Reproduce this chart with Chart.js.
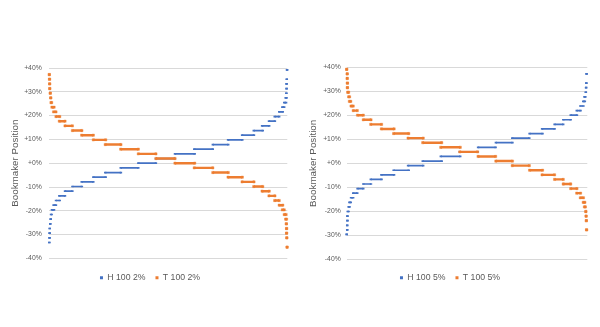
<!DOCTYPE html>
<html><head><meta charset="utf-8">
<script src="https://cdn.jsdelivr.net/npm/chart.js@4/dist/chart.umd.min.js"></script>
<style>
html,body{margin:0;padding:0;background:#fff;}
#wrap{position:relative;width:600px;height:327px;overflow:hidden;}
.c{position:absolute;top:0;width:300px;height:327px;}
</style></head><body>
<div id="wrap">
<div class="c" style="left:0"><canvas id="c1" width="300" height="327"></canvas></div>
<div class="c" style="left:300px"><canvas id="c2" width="300" height="327"></canvas></div>
</div>
<script>
// ---- data ----
const tickLabels = ['-40%','-30%','-20%','-10%','+0%','+10%','+20%','+30%','+40%'];
const seriesNames2 = ['H 100 2%', 'T 100 2%'];
const seriesNames5 = ['H 100 5%', 'T 100 5%'];

// 2% chart: each step = one level, sample-rank range (0..1000) where it sits
const xStart2 = [0,1,1.5,2,4,6,7,11,18,28,42,66,97,136,185,235,300,374,448,528,609,687,751,810,859,894,923,947,966,979,987,993,996,997,997,998,999];
const xEnd2   = [0,1,1.5,2,4,6,10,20,28,44,66,97,137,185,237,301,374,448,528,611,687,752,811,860,897,924,948,966,981,987,995,997,996,997,997,998,999];
const t2Levels = [37.24,35.28,33.32,31.36,29.40,27.44,25.48,23.52,21.56,19.60,17.64,15.68,13.72,11.76,9.80,7.84,5.88,3.92,1.96,0,-1.96,-3.92,-5.88,-7.84,-9.80,-11.76,-13.72,-15.68,-17.64,-19.60,-21.56,-23.52,-25.48,-27.44,-29.40,-31.36,-35.28];
const h2Levels = [-33.32,-31.36,-29.40,-27.44,-25.48,-23.52,-21.56,-19.60,-17.64,-15.68,-13.72,-11.76,-9.80,-7.84,-5.88,-3.92,-1.96,0,1.96,3.92,5.88,7.84,9.80,11.76,13.72,15.68,17.64,19.60,21.56,23.52,25.48,27.44,29.40,31.36,33.32,35.28,39.20];

// 5% chart
const xStart5 = [0,2,2,3,3,4,8,11,18,27,45,69,100,144,195,255,316,391,470,546,620,688,760,812,864,900,931,956,971,983,988,994,995,996,997];
const xEnd5   = [0,2,2,3,3,8,12,17,27,44,69,101,145,197,258,318,395,472,544,619,689,759,814,864,900,931,957,972,984,990,992,994,995,996,997];
const t5Levels = [39.16,37.25,35.34,33.43,31.52,29.61,27.70,25.79,23.88,21.97,20.06,18.15,16.24,14.33,12.42,10.51,8.60,6.69,4.78,2.87,0.96,-0.96,-2.87,-4.78,-6.69,-8.60,-10.51,-12.42,-14.33,-16.24,-18.15,-20.06,-21.97,-23.88,-27.70];
const h5Levels = [-29.61,-27.70,-25.79,-23.88,-21.97,-20.06,-18.15,-16.24,-14.33,-12.42,-10.51,-8.60,-6.69,-4.78,-2.87,-0.96,0.96,2.87,4.78,6.69,8.60,10.51,12.42,14.33,16.24,18.15,20.06,21.97,23.88,25.79,27.70,29.61,31.52,33.43,37.25];

// ---- styling ----
const BLUE = '#4472C4', ORANGE = '#ED7D31', GRAY = '#595959', GRID = '#D9D9D9';
const FONT = "'Liberation Sans', Arial, sans-serif";
Chart.defaults.font.family = FONT;
Chart.defaults.color = GRAY;

function segs(levels, xs, xe) {
  const out = [];
  for (let i = 0; i < levels.length; i++) {
    out.push({x: xs[i], y: levels[i]}, {x: xe[i], y: levels[i]}, {x: xe[i], y: null});
  }
  return out;
}

function makeChart(id, names, hLv, tLv, xs, xe, L) {
  return new Chart(document.getElementById(id), {
    type: 'scatter',
    data: { datasets: [
      { label: names[0], data: segs(hLv, xs, xe), showLine: true, spanGaps: false,
        borderColor: BLUE, backgroundColor: BLUE, borderWidth: 1.7, borderCapStyle: 'butt',
        pointStyle: 'line', pointRadius: 1.2, pointBorderWidth: 1.7, pointBorderColor: BLUE,
        pointBackgroundColor: BLUE, pointHoverRadius: 1.2, order: 1, clip: 8 },
      { label: names[1], data: segs(tLv, xs, xe), showLine: true, spanGaps: false,
        borderColor: ORANGE, backgroundColor: ORANGE, borderWidth: 2.4, borderCapStyle: 'butt',
        pointStyle: 'rect', pointRadius: 1.6, pointBorderWidth: 0.4, pointBorderColor: ORANGE,
        pointBackgroundColor: ORANGE, pointHoverRadius: 1.6, order: 0, clip: 8 }
    ]},
    options: {
      responsive: false, animation: false, devicePixelRatio: 1,
      layout: { padding: { left: 0, right: 0, top: L.top, bottom: L.bottom } },
      plugins: {
        tooltip: { enabled: false },
        legend: {
          position: 'bottom',
          labels: {
            usePointStyle: true, boxWidth: 3, boxHeight: 3, padding: 10,
            color: GRAY, font: { size: 8.7, family: FONT },
            sort: (a, b) => a.datasetIndex - b.datasetIndex,
            generateLabels: (chart) => {
              const items = Chart.defaults.plugins.legend.labels.generateLabels(chart);
              items.forEach(it => { it.pointStyle = 'rect'; it.lineWidth = 0; });
              return items;
            }
          }
        }
      },
      scales: {
        x: { type: 'linear', min: 0, max: 1000, display: true,
             ticks: { display: false },
             grid: { display: true, color: 'transparent', drawOnChartArea: false, drawTicks: true, tickLength: L.xh },
             border: { display: false } },
        y: { type: 'linear', position: 'left', min: -40, max: 40,
             ticks: { stepSize: 10, autoSkip: false, padding: L.tickPad, color: GRAY,
                      font: { size: 6.8, family: FONT },
                      callback: (v, i) => tickLabels[i] },
             grid: { color: GRID, lineWidth: 1, drawTicks: false },
             border: { display: false },
             title: { display: true, text: 'Bookmaker Position', color: GRAY,
                      font: { size: 9.8, family: FONT }, padding: { top: L.titlePad, bottom: 0 } },
             afterFit: (s) => { s.width = L.yw; } },
        y2: { type: 'linear', position: 'right', min: 0, max: 1, display: true,
              ticks: { display: false }, grid: { display: false, drawTicks: false },
              border: { display: false },
              afterFit: (s) => { s.width = L.rw; } }
      }
    }
  });
}

makeChart('c1', seriesNames2, h2Levels, t2Levels, xStart2, xEnd2,
  { top: 68, bottom: 35, xh: 4.9, tickPad: 7.6, titlePad: 9.8, yw: 49.3, rw: 12.7 });
makeChart('c2', seriesNames5, h5Levels, t5Levels, xStart5, xEnd5,
  { top: 67.3, bottom: 35, xh: 3.9, tickPad: 6, titlePad: 7.1, yw: 46.7, rw: 12.7 });
</script>
</body></html>
